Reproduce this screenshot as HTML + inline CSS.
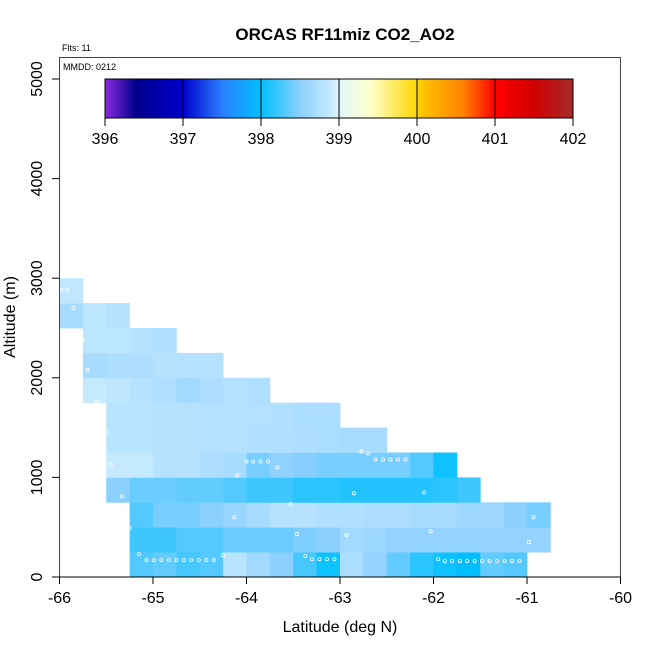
<!DOCTYPE html>
<html><head><meta charset="utf-8"><style>
body{margin:0;background:#fff}
svg{display:block;font-family:"Liberation Sans",sans-serif}
</style></head><body>
<svg id="c" width="650" height="650" xmlns="http://www.w3.org/2000/svg">
<text x="345" y="40" text-anchor="middle" font-size="17" font-weight="bold">ORCAS RF11miz CO2_AO2</text>
<text x="62" y="51" font-size="9">Flts: 11</text>
<g id="cells"></g>
<g id="pts"></g>
<rect x="59.5" y="57.5" width="561" height="519.5" fill="none" stroke="#444" stroke-width="1"/>
<text x="63" y="70" font-size="9">MMDD: 0212</text>
<g id="cbar"></g>
<g id="axes"></g>
<text x="340" y="632" text-anchor="middle" font-size="16">Latitude (deg N)</text>
<text transform="translate(15,317) rotate(-90)" text-anchor="middle" font-size="16">Altitude (m)</text>
</svg>
<script>
const xTicks=[-66,-65,-64,-63,-62,-61,-60];
const yTicks=[0,1000,2000,3000,4000,5000];
const cbTicks=[396,397,398,399,400,401,402];
const rowStartCol=[3,3,3,2,2,2,2,1,1,1,0,0];
// CO2 values per altitude row (row 0 = 0-250 m), columns of 0.25 deg from -66
const row0=[398.3,398.35,398.25,398.3,398.8,398.65,398.5,398.25,398.05,398.7,398.55,398.35,398.15,398.05,398.0,398.35,398.3];
const row1=[398.22,398.22,398.3,398.3,398.38,398.38,398.38,398.45,398.5,398.65,398.6,398.55,398.55,398.55,398.55,398.55,398.55,398.55];
const row2=[398.3,398.43,398.43,398.5,398.58,398.68,398.78,398.78,398.74,398.74,398.72,398.72,398.68,398.68,398.62,398.62,398.5,398.43];
const row3=[398.5,398.38,398.38,398.35,398.35,398.3,398.22,398.22,398.15,398.15,398.12,398.12,398.12,398.12,398.15,398.22];
const row4=[398.88,398.88,398.78,398.78,398.72,398.68,398.43,398.52,398.48,398.43,398.43,398.43,398.43,398.3,398.05];
const row5=[398.8,398.8,398.78,398.78,398.76,398.76,398.74,398.74,398.72,398.7,398.68,398.68];
const row6=[398.8,398.8,398.78,398.78,398.76,398.76,398.76,398.74,398.7,398.7];
const row7=[398.88,398.84,398.78,398.74,398.64,398.72,398.76,398.74];
const row8=[398.68,398.72,398.72,398.78,398.76,398.76];
const row9=[398.82,398.82,398.78,398.74];
const row10=[398.68,398.82,398.78];
const row11=[398.85];
const rows=[row0,row1,row2,row3,row4,row5,row6,row7,row8,row9,row10,row11];
const ptLat=[-65.98,-65.92,-65.85,-65.75,-65.7,-65.6,-65.5,-65.45,-65.33,-65.25,-65.15,-65.07,-64.99,-64.91,-64.83,-64.75,-64.67,-64.59,-64.51,-64.43,-64.35,-64.25,-64.13,-64.1,-64.0,-63.93,-63.85,-63.77,-63.67,-63.53,-63.46,-63.37,-63.3,-63.22,-63.14,-63.06,-62.93,-62.85,-62.77,-62.7,-62.62,-62.54,-62.46,-62.38,-62.3,-62.1,-62.03,-61.95,-61.88,-61.8,-61.72,-61.64,-61.56,-61.48,-61.4,-61.32,-61.24,-61.16,-61.08,-60.98,-60.93];
const ptAlt=[2880,2880,2700,2380,2080,1760,1450,1130,810,490,230,170,170,170,170,170,170,170,170,170,170,220,600,1020,1160,1160,1160,1160,1100,730,430,210,180,180,180,180,420,840,1260,1240,1180,1180,1180,1180,1180,850,460,180,160,160,160,160,160,160,160,160,160,160,160,350,600];
const NS="http://www.w3.org/2000/svg";
const X=v=>59.5+(v+66)*561/6;
const Y=v=>577-v*0.0996;
const CBX=v=>105+(v-396)*468/6;
const stops=[[396,"#8a2be2"],[396.4,"#00008b"],[397,"#0000cd"],[397.5,"#2a7fff"],[398,"#00bfff"],[398.5,"#8cd0ff"],[398.9,"#c8eaff"],[399,"#e0f8f8"],[399.4,"#ffffcc"],[400,"#ffd700"],[400.1,"#ffc000"],[400.6,"#ff8000"],[401,"#ff0000"],[401.5,"#d00000"],[402,"#a52a2a"]];
function hex(h){return [1,3,5].map(i=>parseInt(h.substr(i,2),16));}
function col(v){for(let i=0;i<stops.length-1;i++){const[a,ca]=stops[i],[b,cb]=stops[i+1];if(v<=b){const t=Math.max(0,(v-a)/(b-a));const A=hex(ca),B=hex(cb);return "rgb("+A.map((x,k)=>Math.round(x+(B[k]-x)*t)).join(",")+")";}}return stops[stops.length-1][1];}
function mk(t,a,p){const e=document.createElementNS(NS,t);for(const k in a)e.setAttribute(k,a[k]);p.appendChild(e);return e;}
const cells=document.getElementById('cells');
rows.forEach((r,ri)=>{r.forEach((v,i)=>{const c=rowStartCol[ri]+i;const lat=-66+c*0.25;
const e=mk('rect',{x:X(lat),y:Y((ri+1)*250),width:X(lat+0.25)-X(lat)+0.4,height:Y(ri*250)-Y((ri+1)*250)+0.4,fill:col(v)},cells);

});});
const pts=document.getElementById('pts');
ptLat.forEach((la,i)=>{const e=mk('circle',{cx:X(la),cy:Y(ptAlt[i]),r:1.6,fill:'none',stroke:'#fff','stroke-width':0.8},pts);

});
const cb=document.getElementById('cbar');
const defs=mk('defs',{},cb);const g=mk('linearGradient',{id:'grad',x1:0,x2:1,y1:0,y2:0},defs);
stops.forEach(s=>mk('stop',{offset:(s[0]-396)/6,'stop-color':s[1]},g));
mk('rect',{x:105,y:79,width:468,height:39,fill:'url(#grad)',stroke:'#000','stroke-width':1},cb);
cbTicks.forEach(t=>{const x=CBX(t);mk('line',{x1:x,x2:x,y1:79,y2:126,stroke:'#000','stroke-width':1},cb);
const e=mk('text',{x:x,y:144,'text-anchor':'middle','font-size':16},cb);e.textContent=t;

});
const ax=document.getElementById('axes');
mk('line',{x1:X(-66),x2:X(-60),y1:577,y2:577,stroke:'#000'},ax);
xTicks.forEach(t=>{const x=X(t);mk('line',{x1:x,x2:x,y1:577,y2:584,stroke:'#000'},ax);
const e=mk('text',{x:x,y:603,'text-anchor':'middle','font-size':16},ax);e.textContent=t;

});
yTicks.forEach(t=>{const y=Y(t);mk('line',{x1:52,x2:59.5,y1:y,y2:y,stroke:'#000'},ax);
const e=mk('text',{transform:`translate(42,${y}) rotate(-90)`,'text-anchor':'middle','font-size':16},ax);e.textContent=t;

});
</script>
</body></html>
